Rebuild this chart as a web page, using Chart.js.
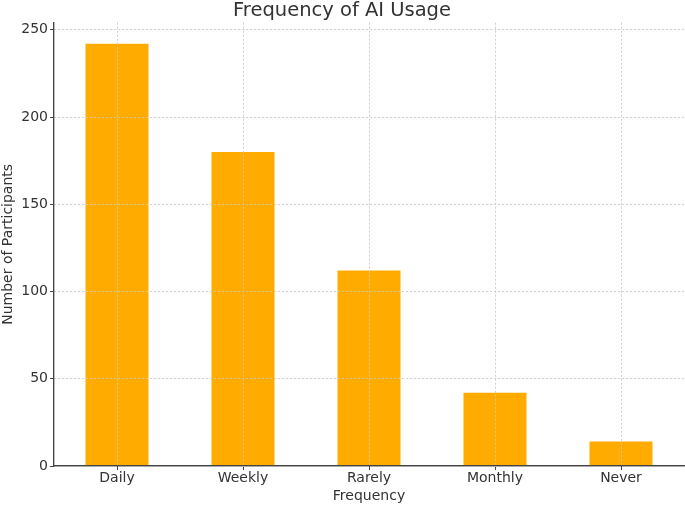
<!DOCTYPE html>
<html>
<head>
<meta charset="utf-8">
<script src="https://cdn.jsdelivr.net/npm/chart.js@4.4.1/dist/chart.umd.min.js"></script>
<style>
html,body{margin:0;padding:0;background:#fff;}
#wrap{width:685px;height:505px;position:relative;}
</style>
</head>
<body>
<div id="wrap"><canvas id="c"></canvas></div>
<script>
const categories = ["Daily", "Weekly", "Rarely", "Monthly", "Never"];
const participants = [242, 180, 112, 42, 14];
const yTicks = [0, 50, 100, 150, 200, 250];
const chartTitle = "Frequency of AI Usage";
const xTitle = "Frequency";
const yTitle = "Number of Participants";

const FONT = "'DejaVu Sans', sans-serif";
const TEXT = "#333333";

const gridOnTop = {
  id: 'gridOnTop',
  afterDatasetsDraw(chart) {
    const area = chart.chartArea;
    ['x','y'].forEach(k => {
      const s = chart.scales[k];
      if (s && s.drawGrid) s.drawGrid(area);
    });
    ['x','y'].forEach(k => {
      const s = chart.scales[k];
      if (s && s.drawBorder) s.drawBorder();
    });
  }
};

new Chart(document.getElementById('c'), {
  type: 'bar',
  data: {
    labels: categories,
    datasets: [{
      data: participants,
      backgroundColor: '#ffab00',
      borderWidth: 0,
      barPercentage: 0.5,
      categoryPercentage: 1.0
    }]
  },
  options: {
    responsive: true,
    maintainAspectRatio: false,
    animation: false,
    devicePixelRatio: 1,
    layout: { padding: { left: 0, right: 1, top: 0, bottom: 0 } },
    plugins: {
      legend: { display: false },
      tooltip: { enabled: false },
      title: {
        display: true,
        text: chartTitle,
        color: TEXT,
        font: { family: FONT, size: 19.5, weight: 'normal', lineHeight: 1 },
        padding: { top: 1.5, bottom: 1.7 }
      }
    },
    scales: {
      x: {
        offset: true,
        grid: {
          offset: false,
          color: '#cfcfcf',
          lineWidth: 0.8,
          drawTicks: true,
          tickLength: 4,
          tickColor: '#444',
          tickWidth: 1,
          tickBorderDash: [],
          tickBorderDashOffset: 0
        },
        border: { display: true, color: '#444', width: 1.2, dash: [2, 2] },
        ticks: {
          color: TEXT,
          font: { family: FONT, size: 14 },
          padding: 0,
          maxRotation: 0
        },
        title: {
          display: true,
          text: xTitle,
          color: TEXT,
          font: { family: FONT, size: 14 },
          padding: { top: 0, bottom: 0 }
        },
        afterFit(s) { s.height = 39; }
      },
      y: {
        min: 0,
        max: 254.1,
        afterBuildTicks(s) { s.ticks = yTicks.map(v => ({ value: v })); },
        grid: {
          color: '#cfcfcf',
          lineWidth: 0.8,
          drawTicks: true,
          tickLength: 4,
          tickColor: '#444',
          tickWidth: 1,
          tickBorderDash: [],
          tickBorderDashOffset: 0
        },
        border: { display: true, color: '#444', width: 1.2, dash: [2, 2] },
        ticks: {
          color: TEXT,
          font: { family: FONT, size: 14 },
          padding: 2
        },
        title: {
          display: true,
          text: yTitle,
          color: TEXT,
          font: { family: FONT, size: 14 },
          padding: { top: 0, bottom: 0 }
        },
        afterFit(s) { s.width = 54; }
      }
    }
  },
  plugins: [gridOnTop]
});
</script>
</body>
</html>
